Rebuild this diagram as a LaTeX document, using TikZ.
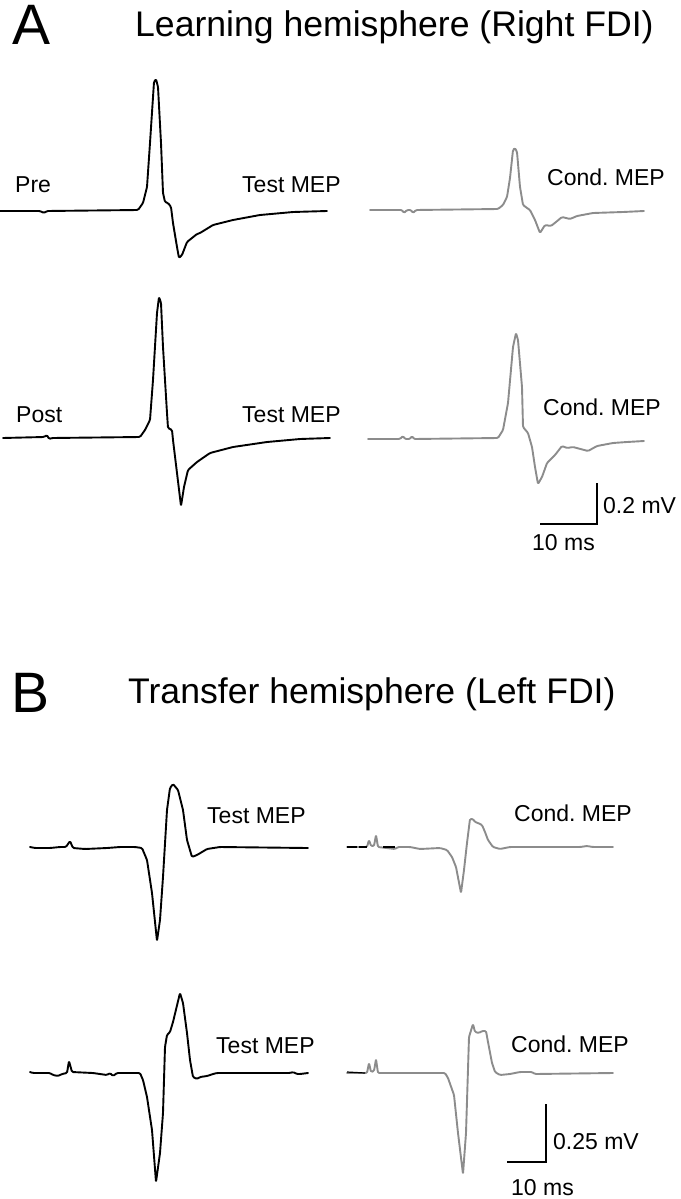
\documentclass[tikz,border=0pt]{standalone}
\usepackage{fontspec}
\setmainfont{Liberation Sans}
\definecolor{trgray}{RGB}{140,140,140}
\begin{document}
\frenchspacing
\begin{tikzpicture}[x=1pt,y=-1pt,
  lbl/.style={anchor=base west,inner sep=0pt,font=\fontsize{23}{26}\selectfont},
  ttl/.style={anchor=base west,inner sep=0pt,font=\fontsize{35.6}{40}\selectfont},
  big/.style={anchor=base west,inner sep=0pt,font=\fontsize{57}{64}\selectfont},
  blk/.style={line width=1.9pt,black,line join=round,line cap=round,rounded corners=1.2pt},
  gry/.style={line width=1.9pt,trgray,line join=round,line cap=round,rounded corners=1.2pt},
  sbar/.style={line width=1.4pt,black}]
\useasboundingbox (0,0) rectangle (680,1199);
% Titles
\node[big] (tA) at (12,45) {A};
\node[ttl] (tAt) at (135,37) {Learning hemisphere (Right FDI)};
\node[big] (tB) at (11,712) {B};
\node[ttl] (tBt) at (128,703) {Transfer hemisphere (Left FDI)};
% Panel A labels
\node[lbl] (pre) at (15,192) {Pre};
\node[lbl] (tA1) at (242,192) {Test MEP};
\node[lbl] (cA1) at (547,185) {Cond. MEP};
\node[lbl] (post) at (16,422) {Post};
\node[lbl] (tA2) at (242,422) {Test MEP};
\node[lbl] (cA2) at (543,415) {Cond. MEP};
% Panel B labels
\node[lbl] (tB1) at (207,823) {Test MEP};
\node[lbl] (cB1) at (514,821) {Cond. MEP};
\node[lbl] (tB2) at (216,1053) {Test MEP};
\node[lbl] (cB2) at (511,1052) {Cond. MEP};
% Traces A
\draw[blk] (0,211) -- (40,211) -- (44,213) -- (47,211) -- (138,210) -- (143,203) -- (147,187) -- (150,143) -- (154,82) -- (156,79) -- (158,87) -- (161,143) -- (163,193) -- (165,202) -- (168,203) -- (171,207) -- (173,223) -- (177,247) -- (179,258) -- (182,255) -- (187,242) -- (197,234) -- (200,233) -- (213,225) -- (233,220) -- (260,215) -- (293,212) -- (327,211);
\draw[gry] (370,210) -- (402,210) -- (404,213) -- (407,210) -- (411,210) -- (413,213) -- (416,210) -- (498,209) -- (503,205) -- (507,197) -- (510,178) -- (513,150) -- (515,148) -- (517,152) -- (520,187) -- (523,205) -- (527,208) -- (530,210) -- (535,220) -- (540,233) -- (545,225) -- (551,226) -- (556,222) -- (562,217) -- (570,219) -- (577,216) -- (593,213) -- (623,212) -- (644,211);
\draw[blk] (3,438) -- (44,437) -- (47,435) -- (49,439) -- (52,438) -- (140,437) -- (145,430) -- (150,420) -- (153,380) -- (157,313) -- (159,297) -- (161,303) -- (163,347) -- (167,413) -- (168,428) -- (172,430) -- (173,440) -- (177,473) -- (181,506) -- (184,487) -- (188,470) -- (197,462) -- (210,453) -- (233,447) -- (267,442) -- (300,439) -- (330,438);
\draw[gry] (368,439) -- (400,439) -- (403,436) -- (405,439) -- (410,439) -- (412,436) -- (414,439) -- (498,438) -- (503,430) -- (508,403) -- (513,347) -- (516,333) -- (518,340) -- (522,387) -- (523,427) -- (528,433) -- (532,447) -- (535,467) -- (538,484) -- (542,477) -- (547,463) -- (555,455) -- (562,446) -- (567,448) -- (573,447) -- (588,451) -- (597,446) -- (613,443) -- (627,442) -- (644,441);
% Scale bar A
\coordinate (sa1) at (540,524);
\coordinate (sa2) at (597,524);
\coordinate (sa3) at (597,483);
\draw[sbar] (sa1) -- (sa2) -- (sa3);
\node[lbl] (mvA) at (603,513) {0.2 mV};
\node[lbl] (msA) at (532,550) {10 ms};
% Traces B
\draw[blk] (30,847) -- (35,848) -- (50,848) -- (60,847) -- (66,847) -- (70,841) -- (73,848) -- (85,849) -- (107,848) -- (120,847) -- (135,847) -- (142,848) -- (147,860) -- (152,893) -- (157,941) -- (160,920) -- (163,877) -- (167,810) -- (170,788) -- (173,784) -- (178,790) -- (183,810) -- (187,840) -- (192,857) -- (197,855) -- (207,849) -- (220,847) -- (308,848);
\draw[gry] (347,847) -- (367,847) -- (369,840) -- (371,846) -- (374,846) -- (376,835) -- (378,847) -- (395,849) -- (398,847) -- (410,847) -- (420,849) -- (440,848) -- (447,850) -- (452,857) -- (456,867) -- (461,893) -- (464,870) -- (467,843) -- (470,819) -- (473,819) -- (475,822) -- (478,823) -- (482,825) -- (485,832) -- (488,840) -- (493,847) -- (500,849) -- (510,847) -- (580,847) -- (587,846) -- (593,847) -- (613,847);
\draw[black,line width=1.2pt] (347,847) -- (357,847) (359,847) -- (367,847) (383,847) -- (395,847);
\draw[blk] (30,1072) -- (33,1073) -- (50,1073) -- (53,1075) -- (58,1076) -- (62,1074) -- (67,1073) -- (69,1061) -- (72,1072) -- (93,1073) -- (107,1075) -- (110,1073) -- (113,1076) -- (117,1073) -- (140,1073) -- (143,1080) -- (147,1097) -- (152,1130) -- (156,1182) -- (160,1153) -- (163,1113) -- (165,1047) -- (167,1035) -- (170,1032) -- (173,1022) -- (180,993) -- (183,1003) -- (187,1033) -- (190,1060) -- (193,1077) -- (197,1079) -- (200,1077) -- (207,1076) -- (213,1074) -- (217,1073) -- (290,1073) -- (293,1072) -- (297,1074) -- (300,1074) -- (308,1073);
\draw[gry] (347,1073) -- (367,1073) -- (369,1063) -- (371,1072) -- (374,1071) -- (376,1059) -- (378,1073) -- (445,1073) -- (448,1078) -- (454,1095) -- (458,1133) -- (463,1174) -- (466,1133) -- (469,1037) -- (473,1024) -- (475,1032) -- (479,1033) -- (482,1031) -- (486,1031) -- (488,1042) -- (492,1063) -- (495,1072) -- (500,1075) -- (510,1074) -- (520,1072) -- (532,1072) -- (535,1074) -- (613,1073);
\draw[black,line width=1.2pt] (347,1072) -- (365,1073);
% Scale bar B
\coordinate (sb1) at (507,1162);
\coordinate (sb2) at (546,1162);
\coordinate (sb3) at (546,1104);
\draw[sbar] (sb1) -- (sb2) -- (sb3);
\node[lbl] (mvB) at (553,1149) {0.25 mV};
\node[lbl] (msB) at (511,1195) {10 ms};
\end{tikzpicture}
\end{document}
